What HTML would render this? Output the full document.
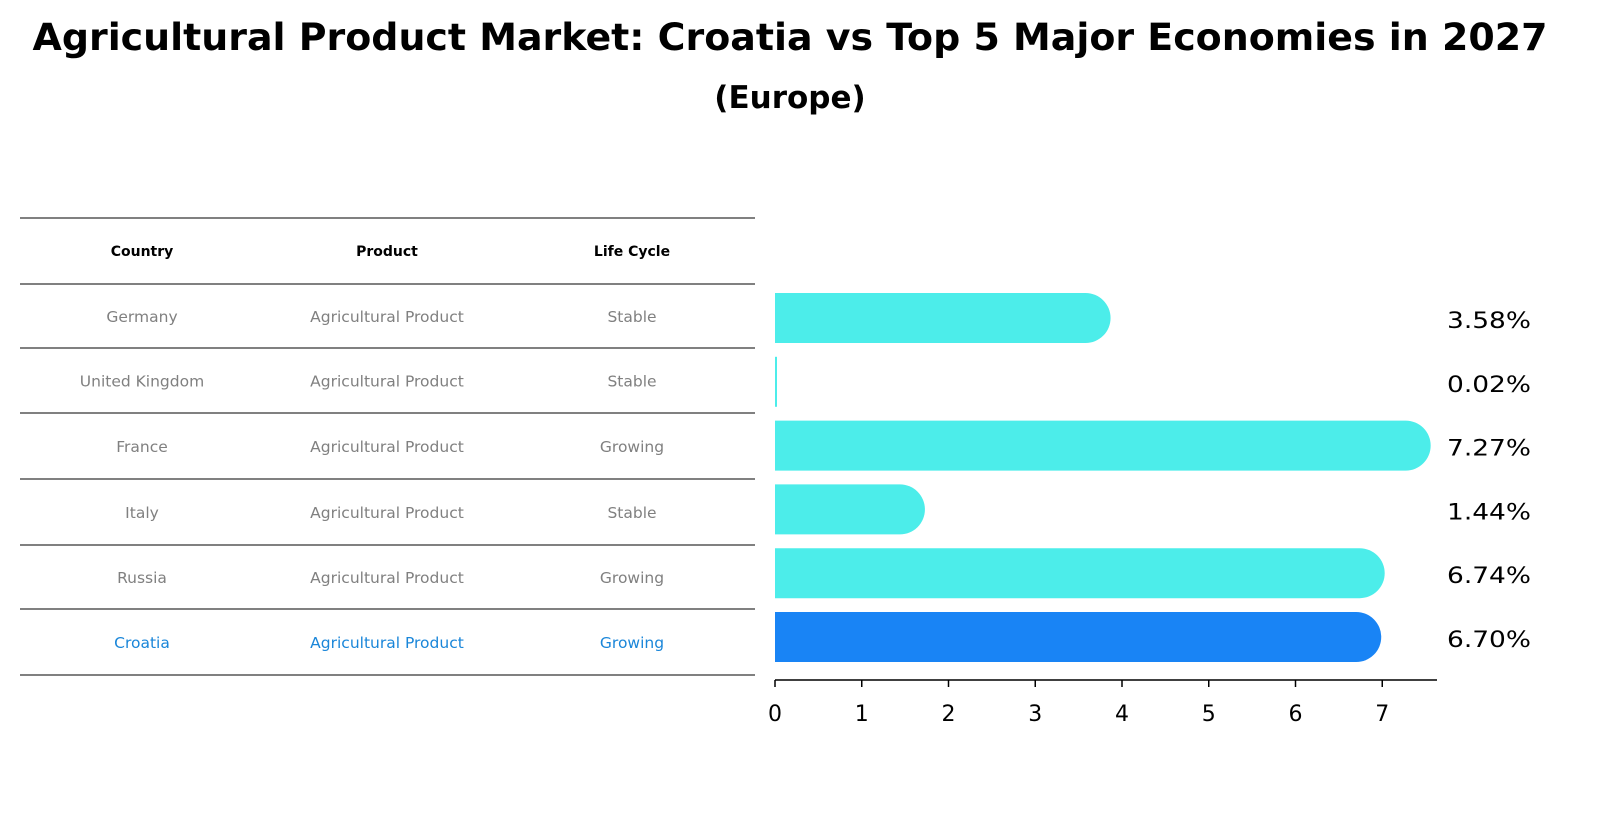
<!DOCTYPE html>
<html><head><meta charset="utf-8"><style>
html,body{margin:0;padding:0;background:#fff;overflow:hidden;width:1603px;height:823px;}
svg{display:block;}
svg text{font-family:"DejaVu Sans","Liberation Sans",sans-serif;}
</style></head><body>
<svg id="chart" width="1603" height="823" viewBox="0 0 1603 823" xmlns="http://www.w3.org/2000/svg">
<text x="790" y="50" text-anchor="middle" font-size="37" font-weight="bold" textLength="1515" lengthAdjust="spacingAndGlyphs">Agricultural Product Market: Croatia vs Top 5 Major Economies in 2027</text>
<text x="790" y="108" text-anchor="middle" font-size="31" font-weight="bold">(Europe)</text>
<g id="table"></g>
<g id="bars"></g>
<g id="axis"></g>
</svg>
<script>
const countries=["Germany","United Kingdom","France","Italy","Russia","Croatia"];
const products=["Agricultural Product","Agricultural Product","Agricultural Product","Agricultural Product","Agricultural Product","Agricultural Product"];
const lifeCycles=["Stable","Stable","Growing","Stable","Growing","Growing"];
const values=[3.58,0.02,7.27,1.44,6.74,6.70];
const ticks=[0,1,2,3,4,5,6,7];
const NS="http://www.w3.org/2000/svg";
const x0=775,pxPer=86.75;
const X=v=>x0+v*pxPer;
const rowY=i=>318+i*63.8;
function mk(tag,attrs,parent){const e=document.createElementNS(NS,tag);for(const k in attrs)e.setAttribute(k,attrs[k]);parent.appendChild(e);return e;}
const tbl=document.getElementById('table');
const lines=[218,284,348,413,479,545,609,675];
lines.forEach(y=>{const l=mk('line',{x1:20,x2:755,y1:y,y2:y,stroke:'#000','stroke-width':1},tbl);

});
const cx=[142,387,632];
["Country","Product","Life Cycle"].forEach((h,j)=>{const t=mk('text',{x:cx[j],y:256,'text-anchor':'middle','font-size':14,'font-weight':'bold'},tbl);t.textContent=h;

});
countries.forEach((c,i)=>{const y=(lines[i+1]+lines[i+2])/2+6;const col=i===5?'#1a86d9':'#808080';
[c,products[i],lifeCycles[i]].forEach((v,j)=>{const t=mk('text',{x:cx[j],y:y,'text-anchor':'middle','font-size':15.5,fill:col},tbl);t.textContent=v;

});});
const bars=document.getElementById('bars');
const h=50,r=25;
values.forEach((v,i)=>{const cy=rowY(i);const col=i===5?'#1984f5':'#4cedea';
const xe=X(v);
const d=v<0.1?`M${x0} ${cy-h/2}h2v${h}h-2z`:`M${x0} ${cy-h/2}H${xe}A${r} ${r} 0 0 1 ${xe} ${cy+h/2}H${x0}Z`;
const p=mk('path',{d:d,fill:col},bars);


const t=mk('text',{x:1447,y:cy+10,'font-size':22,textLength:84,lengthAdjust:'spacingAndGlyphs'},bars);t.textContent=v.toFixed(2)+'%';

});
const ax=document.getElementById('axis');
mk('line',{x1:x0,x2:1437,y1:680,y2:680,stroke:'#000','stroke-width':1.5},ax);
ticks.forEach(v=>{mk('line',{x1:X(v),x2:X(v),y1:680,y2:687,stroke:'#000','stroke-width':1.5},ax);
const t=mk('text',{x:X(v),y:721,'text-anchor':'middle','font-size':22},ax);t.textContent=v;

});
</script>
</body></html>
